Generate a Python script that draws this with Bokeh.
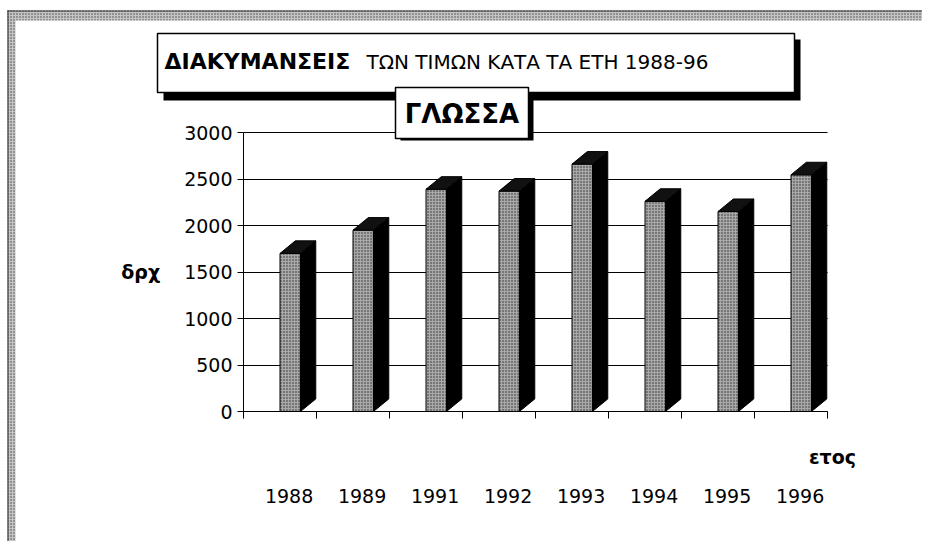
from bokeh.plotting import figure
from bokeh.models import Range1d, FixedTicker, Label, BoxAnnotation, ColumnDataSource
from bokeh.embed import file_html
from bokeh.resources import INLINE

# ---------------- data ----------------
years = ["1988", "1989", "1991", "1992", "1993", "1994", "1995", "1996"]
prices = [1700, 1950, 2390, 2370, 2660, 2260, 2150, 2545]
y_ticks = [0, 500, 1000, 1500, 2000, 2500, 3000]

title_main = "ΔΙΑΚΥΜΑΝΣΕΙΣ"
title_rest = "ΤΩΝ ΤΙΜΩΝ ΚΑΤΑ ΤΑ ΕΤΗ 1988-96"
subtitle = "ΓΛΩΣΣΑ"
y_label = "δρχ"
x_label = "ετος"

# ---------------- layout constants ----------------
FONT = "DejaVu Sans"
W, H = 922, 541
n = len(years)
YMAX = 3000
FL, FR = 0.50, 0.78      # front face of a bar inside its category slot
DX, DY = 0.21, 135       # 3-D depth offset (x in slots, y in value units)
LAB = 0.625              # year label position inside slot

# pixel position of the chart area on the canvas
PX0, PX1, PY0, PY1 = 243, 827, 411, 132
SX = (PX1 - PX0) / n          # px per slot
SY = (PY0 - PY1) / YMAX       # px per value unit

x_start, x_end = -PX0 / SX, (W - PX0) / SX
y_start, y_end = -(H - PY0) / SY, PY0 / SY

p = figure(width=W, height=H, output_backend="svg", toolbar_location=None,
           x_range=Range1d(x_start, x_end), y_range=Range1d(y_start, y_end),
           background_fill_color="white", border_fill_color="white")
p.min_border = 0
p.outline_line_color = None
p.extra_x_ranges = {"yr": Range1d(x_start - LAB, x_end - LAB)}

# ---------------- grid lines ----------------
grid_ok = False
try:
    p.ygrid.cross_bounds = (0, n)
    p.ygrid.ticker = FixedTicker(ticks=y_ticks)
    p.ygrid.grid_line_color = "black"
    p.ygrid.grid_line_width = 1
    grid_ok = True
except Exception:
    p.ygrid.visible = False
if not grid_ok:
    p.ygrid.visible = False
    p.segment(x0=[0] * len(y_ticks), x1=[n] * len(y_ticks), y0=y_ticks, y1=y_ticks,
              line_color="black", line_width=1)
p.xgrid.visible = False

# ---------------- bars (front, side, top) ----------------
idx = list(range(n))
front = ColumnDataSource(dict(
    left=[i + FL for i in idx], right=[i + FR for i in idx],
    bottom=[0] * n, top=prices))
p.quad(left="left", right="right", bottom="bottom", top="top", source=front,
       fill_color="#a9a9a9", hatch_pattern="dot", hatch_color="#2a2a2a",
       hatch_scale=3, hatch_weight=1, line_color="black", line_width=1)

side_xs = [[i + FR, i + FR + DX, i + FR + DX, i + FR] for i in idx]
side_ys = [[0, DY, v + DY, v] for v in prices]
p.patches(side_xs, side_ys, fill_color="black", line_color="black", line_width=1)

top_xs = [[i + FL, i + FL + DX, i + FR + DX, i + FR] for i in idx]
top_ys = [[v, v + DY, v + DY, v] for v in prices]
p.patches(top_xs, top_ys, fill_color="#111111", line_color="black", line_width=1)

# ---------------- axes ----------------
xa = p.xaxis[0]
xa.x_range_name = "yr"
xa.fixed_location = 0
xa.bounds = (-LAB, n - LAB)
xa.ticker = FixedTicker(ticks=idx, minor_ticks=[k - LAB for k in range(n + 1)])
xa.major_label_overrides = {i: years[i] for i in idx}
xa.major_tick_out = 0
xa.major_tick_in = 0
xa.minor_tick_out = 7
xa.minor_tick_in = 0
xa.minor_tick_line_color = "black"
xa.axis_line_color = "black"
xa.major_label_standoff = 70
xa.major_label_text_font = FONT
xa.major_label_text_font_size = "19px"
xa.major_label_text_color = "black"

ya = p.yaxis[0]
ya.fixed_location = 0
ya.bounds = (0, YMAX)
ya.ticker = FixedTicker(ticks=y_ticks)
ya.major_tick_out = 6
ya.major_tick_in = 0
ya.minor_tick_out = 0
ya.minor_tick_in = 0
ya.major_label_standoff = 5
ya.major_label_text_font = FONT
ya.major_label_text_font_size = "19px"
ya.major_label_text_color = "black"
ya.axis_line_color = "black"
ya.major_tick_line_color = "black"
ya.axis_label = y_label
ya.axis_label_orientation = "horizontal"
ya.axis_label_standoff = 21
ya.axis_label_text_font = FONT
ya.axis_label_text_font_size = "19px"
ya.axis_label_text_font_style = "bold"
ya.axis_label_text_color = "black"


# ---------------- decorations (canvas pixel units) ----------------
def box(l, t, r, b, fill, line=None, lw=1, hatch=False):
    kw = dict(left=l, right=r, top=t, bottom=b,
              left_units="canvas", right_units="canvas",
              top_units="canvas", bottom_units="canvas",
              fill_color=fill, fill_alpha=1.0,
              line_color=line, line_alpha=1.0, line_width=lw)
    if hatch:
        kw.update(hatch_pattern="dot", hatch_color="#444444", hatch_scale=3, hatch_alpha=1.0)
    p.add_layout(BoxAnnotation(**kw))


def text(x, y, s, size, style="normal", align="left"):
    p.add_layout(Label(x=x, y=y, x_units="canvas", y_units="canvas", text=s,
                       text_font=FONT, text_font_size=size, text_font_style=style,
                       text_color="black", text_align=align, text_baseline="alphabetic"))


# scanned page border (left and top stippled bands)
box(7, 10, W, 20, "#c4c4c4", hatch=True)
box(7, 10, 15, H, "#c4c4c4", hatch=True)
box(7, 10, W, 11, "#333333")
box(7, 10, 8, H, "#333333")

# main title box with shadow
box(163, 39, 800, 100, "black")
box(157, 33, 794, 92, "white", line="black", lw=1.5)
text(164, 61, title_main, "22px", "bold")
text(366, 61, title_rest, "20px")

# subject box with shadow
box(400, 93, 533, 140, "black")
box(395, 87, 528, 138, "white", line="black", lw=1.5)
text(461.5, 113, subtitle, "26px", "bold", align="center")

# axis caption
text(832, 456, x_label, "19px", "bold", align="center")

open("out.html", "w").write(file_html(p, INLINE))
